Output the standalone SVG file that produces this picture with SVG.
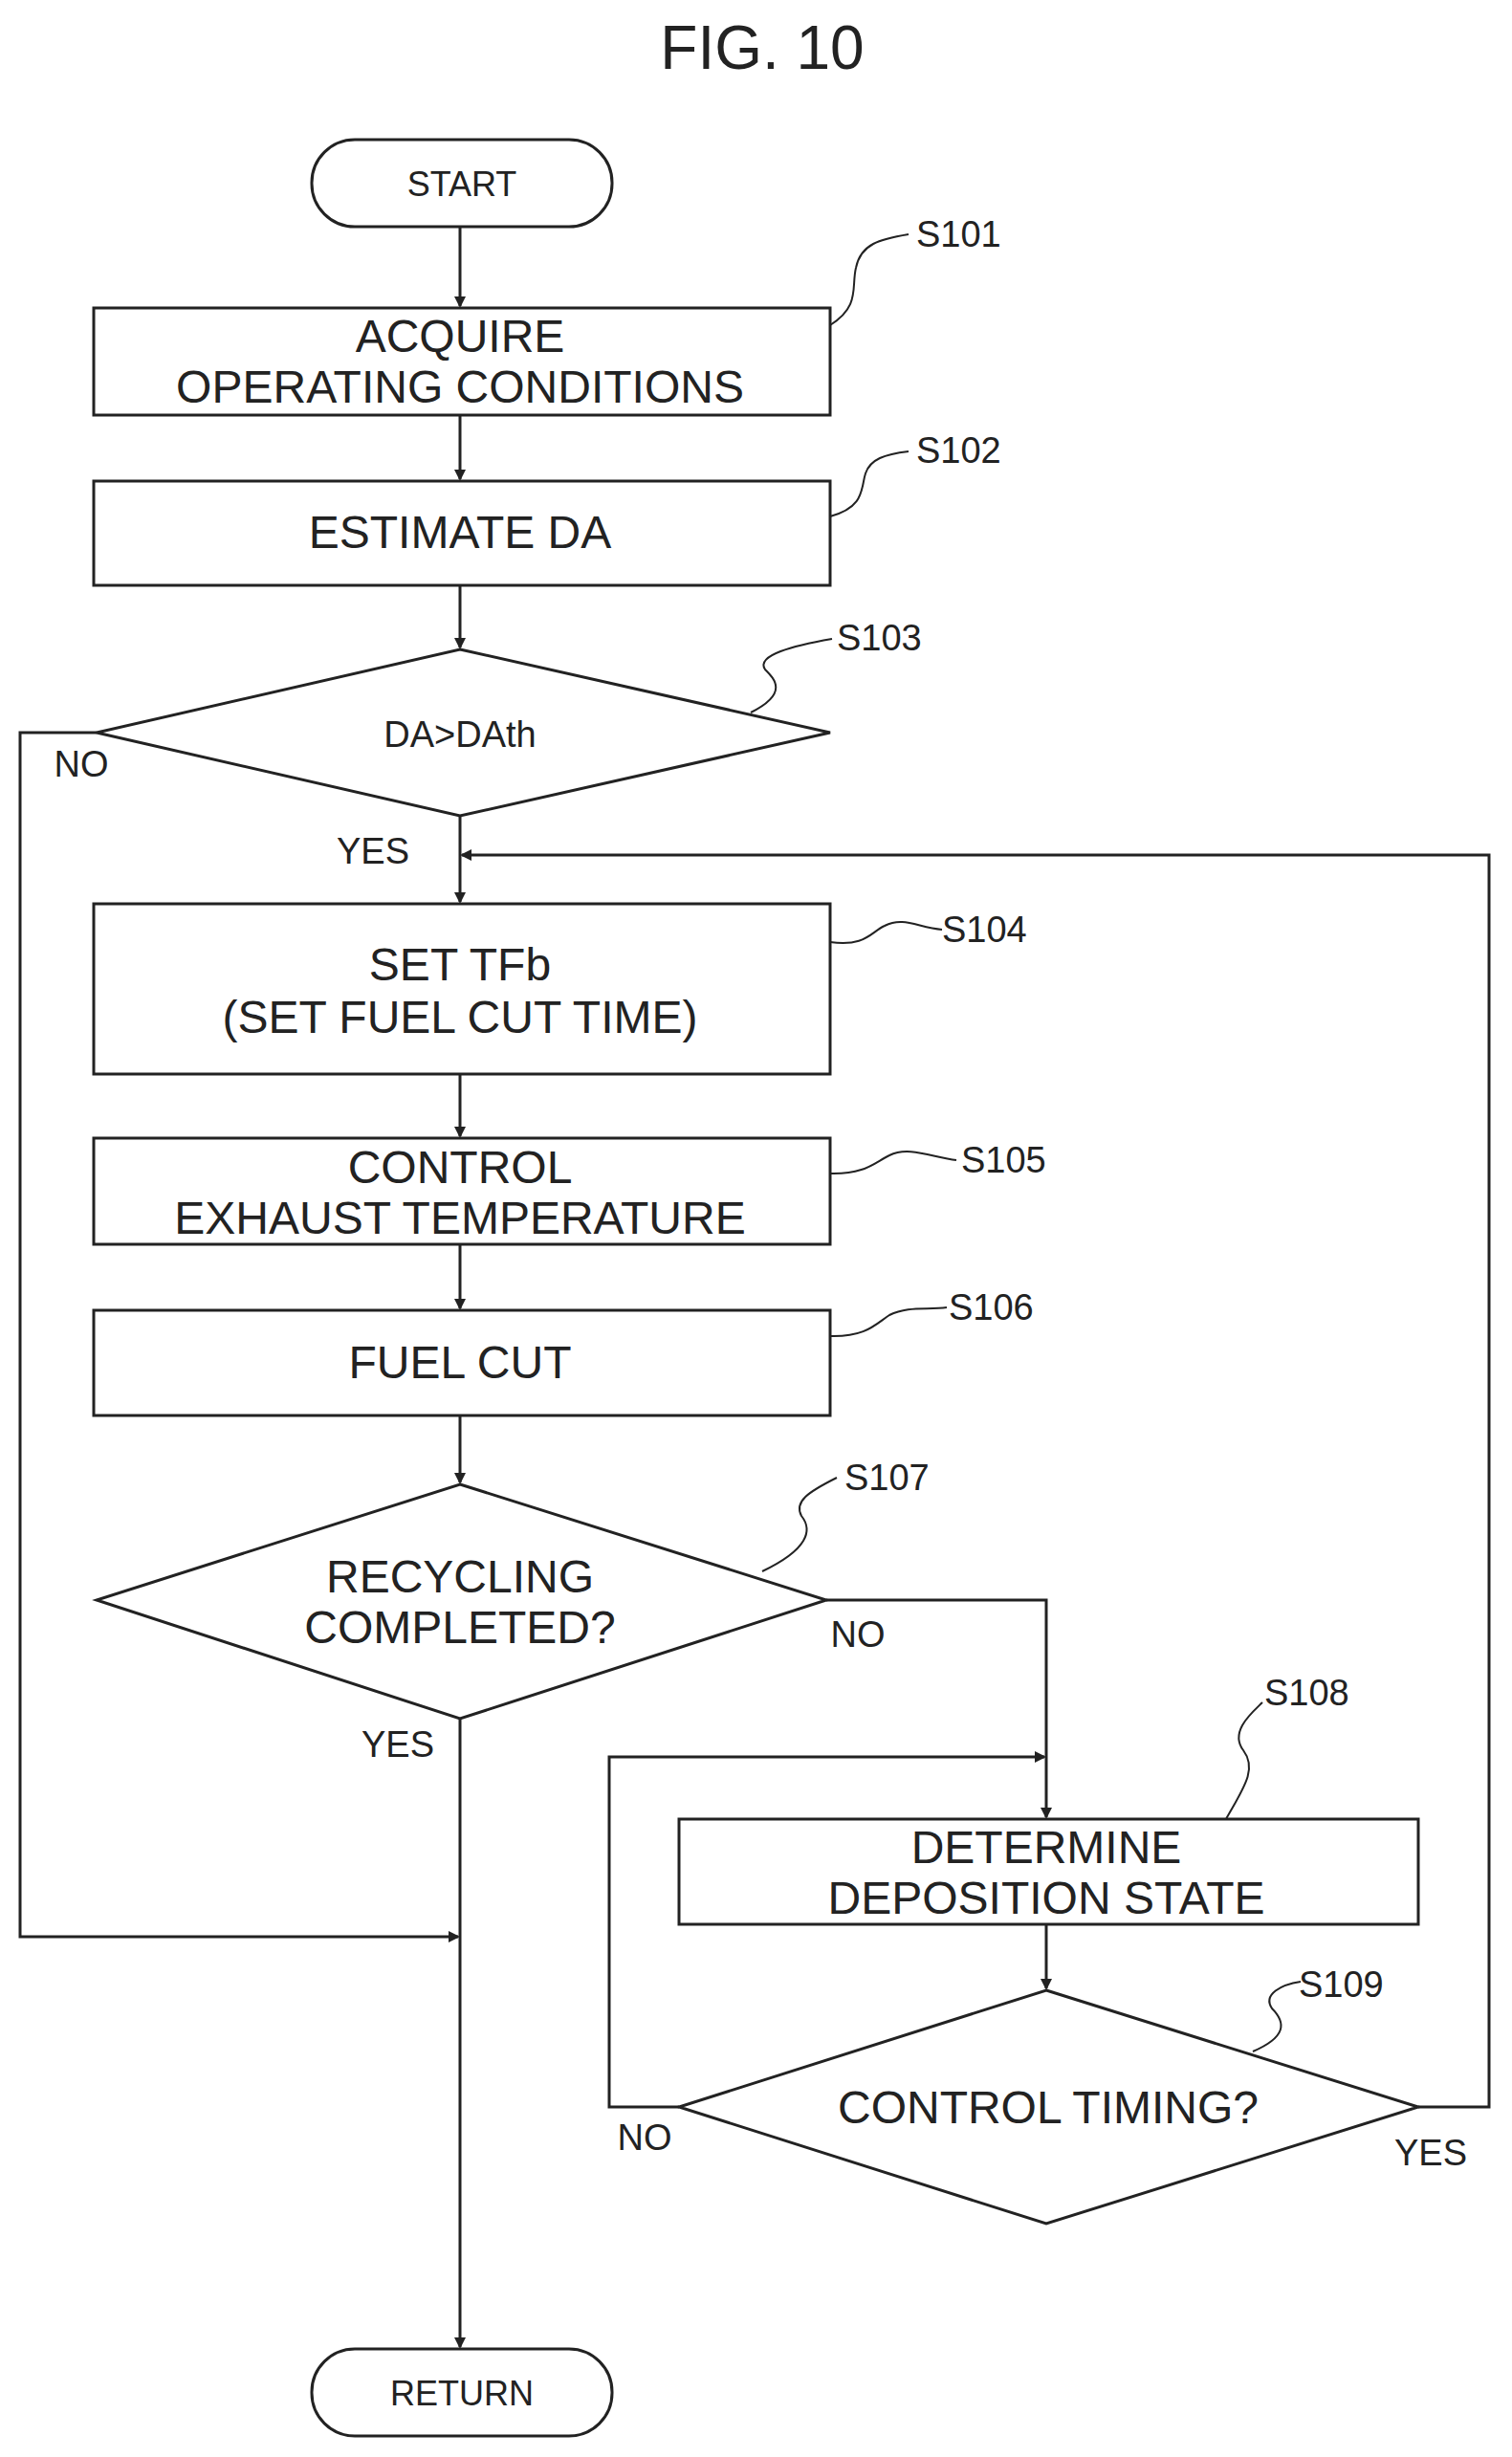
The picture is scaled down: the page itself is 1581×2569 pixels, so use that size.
<svg xmlns="http://www.w3.org/2000/svg" width="1581" height="2569" viewBox="0 0 1581 2569">
<style>
.s{fill:none;stroke:#222;stroke-width:3}
.t{font-family:"Liberation Sans Narrow","Liberation Sans",sans-serif;fill:#222;text-anchor:middle}
.b{font-size:48px}
.l{font-size:38px;text-anchor:start}
.lead{fill:none;stroke:#222;stroke-width:2}
</style>
<defs>
<marker id="a" markerWidth="12" markerHeight="12" refX="10" refY="6" orient="auto" markerUnits="userSpaceOnUse">
<path d="M0,0 L12,6 L0,12 z" fill="#222"/>
</marker>
</defs>
<text class="t" x="797" y="72" font-size="64">FIG. 10</text>
<g id="connectors" class="s">
<path class="s" d="M481,237 V320" marker-end="url(#a)"/>
<path class="s" d="M481,434 V501" marker-end="url(#a)"/>
<path class="s" d="M481,612 V677" marker-end="url(#a)"/>
<path class="s" d="M481,853 V943" marker-end="url(#a)"/>
<path class="s" d="M481,1123 V1188" marker-end="url(#a)"/>
<path class="s" d="M481,1301 V1368" marker-end="url(#a)"/>
<path class="s" d="M481,1480 V1550" marker-end="url(#a)"/>
<path class="s" d="M481,1797 V2454" marker-end="url(#a)"/>
<path class="s" d="M101,766 H21 V2025 H479" marker-end="url(#a)"/>
<path class="s" d="M864,1673 H1094 V1900" marker-end="url(#a)"/>
<path class="s" d="M1094,2012 V2079" marker-end="url(#a)"/>
<path class="s" d="M710,2203 H637 V1837 H1092" marker-end="url(#a)"/>
<path class="s" d="M1483,2203 H1557 V894 H483" marker-end="url(#a)"/>
</g>
<g id="start"><rect class="s" x="326" y="146" width="314" height="91" rx="45"/><text class="t" x="483" y="205" font-size="36">START</text></g>
<g id="s101"><rect class="s" x="98" y="322" width="770" height="112"/><text class="t b" x="481" y="368">ACQUIRE</text><text class="t b" x="481" y="421">OPERATING CONDITIONS</text>
<path class="lead" d="M868,340 C900,320 890,300 895,280 C900,255 920,250 950,245"/><text class="t l" x="958" y="258">S101</text></g>
<g id="s102"><rect class="s" x="98" y="503" width="770" height="109"/><text class="t b" x="481" y="573">ESTIMATE DA</text>
<path class="lead" d="M868,540 C905,530 900,510 905,495 C910,480 925,475 950,472"/><text class="t l" x="958" y="484">S102</text></g>
<g id="s103"><path class="s" d="M481,679 L868,766 L481,853 L101,766 Z"/><text class="t" x="481" y="781" font-size="38">DA&gt;DAth</text>
<path class="lead" d="M785,745 C825,725 810,710 800,700 C790,685 830,675 870,668"/><text class="t l" x="875" y="680">S103</text></g>
<g id="s104"><rect class="s" x="98" y="945" width="770" height="178"/><text class="t b" x="481" y="1025">SET TFb</text><text class="t b" x="481" y="1080">(SET FUEL CUT TIME)</text>
<path class="lead" d="M868,985 C905,990 910,975 925,968 C945,958 960,970 985,972"/><text class="t l" x="985" y="985">S104</text></g>
<g id="s105"><rect class="s" x="98" y="1190" width="770" height="111"/><text class="t b" x="481" y="1237">CONTROL</text><text class="t b" x="481" y="1290">EXHAUST TEMPERATURE</text>
<path class="lead" d="M868,1227 C905,1228 915,1215 930,1208 C950,1198 975,1210 1000,1213"/><text class="t l" x="1005" y="1226">S105</text></g>
<g id="s106"><rect class="s" x="98" y="1370" width="770" height="110"/><text class="t b" x="481" y="1441">FUEL CUT</text>
<path class="lead" d="M868,1397 C905,1398 915,1385 930,1375 C950,1365 970,1370 990,1367"/><text class="t l" x="992" y="1380">S106</text></g>
<g id="s107"><path class="s" d="M481,1552 L864,1673 L481,1797 L101,1673 Z"/><text class="t b" x="481" y="1665">RECYCLING</text><text class="t b" x="481" y="1718">COMPLETED?</text>
<path class="lead" d="M797,1643 C845,1620 850,1600 838,1585 C830,1570 845,1560 875,1545"/><text class="t l" x="883" y="1558">S107</text></g>
<g id="s108"><rect class="s" x="710" y="1902" width="773" height="110"/><text class="t b" x="1094" y="1948">DETERMINE</text><text class="t b" x="1094" y="2001">DEPOSITION STATE</text>
<path class="lead" d="M1282,1902 C1300,1870 1315,1850 1300,1830 C1285,1810 1310,1790 1320,1780"/><text class="t l" x="1322" y="1783">S108</text></g>
<g id="s109"><path class="s" d="M1094,2081 L1483,2203 L1094,2325 L710,2203 Z"/><text class="t b" x="1096" y="2220">CONTROL TIMING?</text>
<path class="lead" d="M1310,2145 C1345,2130 1345,2115 1330,2100 C1320,2085 1340,2075 1360,2072"/><text class="t l" x="1358" y="2088">S109</text></g>
<g id="return"><rect class="s" x="326" y="2456" width="314" height="91" rx="45"/><text class="t" x="483" y="2515" font-size="36">RETURN</text></g>
<g id="labels">
<text class="t" x="85" y="812" font-size="38">NO</text>
<text class="t" x="390" y="903" font-size="38">YES</text>
<text class="t" x="897" y="1722" font-size="38">NO</text>
<text class="t" x="416" y="1837" font-size="38">YES</text>
<text class="t" x="674" y="2248" font-size="38">NO</text>
<text class="t" x="1496" y="2264" font-size="38">YES</text>
</g>
</svg>
